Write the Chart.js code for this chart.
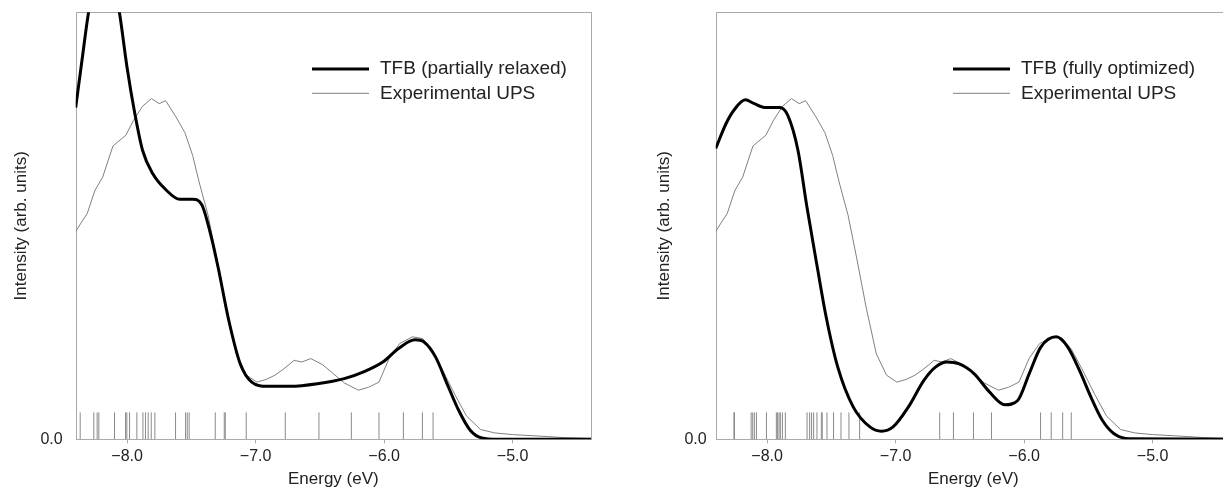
<!DOCTYPE html>
<html>
<head>
<meta charset="utf-8">
<title>TFB spectra</title>
<script src="https://cdn.jsdelivr.net/npm/chart.js@4.4.1/dist/chart.umd.min.js"></script>
<style>
  html, body { margin: 0; padding: 0; background: #fff; overflow: hidden; }
  #wrap { position: relative; width: 1223px; height: 490px; overflow: hidden; }
  #chartLeft { position: absolute; left: 0; top: 0; }
  #chartRight { position: absolute; left: 612px; top: 0; }
</style>
</head>
<body>
<div id="wrap">
  <canvas id="chartLeft" width="612" height="490"></canvas>
  <canvas id="chartRight" width="630" height="490"></canvas>
</div>
<script>
// energies in eV, intensities in arbitrary units (0 .. 1 = top of plot)
const xTicks = [-8, -7, -6, -5];
const yTicks = [0];

// experimental UPS (same curve in both panels)
const upsE = [-8.40, -8.31, -8.25, -8.19, -8.11, -8.01, -7.95, -7.88, -7.81, -7.75, -7.70, -7.62, -7.55, -7.49, -7.44, -7.37, -7.30, -7.23, -7.15, -7.07, -6.99, -6.92, -6.85, -6.78, -6.70, -6.64, -6.57, -6.48, -6.40, -6.31, -6.20, -6.12, -6.04, -5.96, -5.88, -5.78, -5.70, -5.63, -5.55, -5.45, -5.36, -5.25, -5.14, -5.00, -4.82, -4.60, -4.39];
const upsI = [0.487, 0.529, 0.583, 0.614, 0.687, 0.712, 0.747, 0.780, 0.798, 0.786, 0.793, 0.755, 0.718, 0.665, 0.603, 0.525, 0.42, 0.31, 0.20, 0.15, 0.134, 0.140, 0.150, 0.165, 0.185, 0.181, 0.189, 0.175, 0.155, 0.132, 0.115, 0.122, 0.134, 0.190, 0.224, 0.240, 0.236, 0.210, 0.165, 0.105, 0.055, 0.023, 0.015, 0.011, 0.008, 0.004, 0.002];

// TFB (partially relaxed)
const relaxedE = [-8.40, -8.35, -8.30, -8.24, -8.18, -8.12, -8.06, -8.00, -7.94, -7.88, -7.80, -7.70, -7.59, -7.49, -7.42, -7.35, -7.29, -7.21, -7.12, -7.03, -6.91, -6.73, -6.52, -6.31, -6.16, -6.01, -5.89, -5.76, -5.69, -5.60, -5.51, -5.42, -5.33, -5.24, -5.12, -4.39];
const relaxedI = [0.777, 0.89, 1.00, 1.09, 1.13, 1.09, 1.00, 0.87, 0.763, 0.677, 0.622, 0.585, 0.562, 0.562, 0.550, 0.48, 0.40, 0.28, 0.177, 0.134, 0.124, 0.124, 0.130, 0.142, 0.158, 0.181, 0.212, 0.233, 0.228, 0.193, 0.130, 0.068, 0.021, 0.003, 0, 0];
const relaxedLines = [-8.365, -8.259, -8.233, -8.220, -8.098, -8.012, -8.002, -7.981, -7.924, -7.877, -7.857, -7.836, -7.812, -7.784, -7.623, -7.545, -7.532, -7.517, -7.314, -7.244, -7.236, -7.073, -6.769, -6.507, -6.255, -6.040, -5.850, -5.702, -5.619];

// TFB (fully optimized)
const optE = [-8.40, -8.32, -8.26, -8.17, -8.10, -8.01, -7.90, -7.84, -7.76, -7.69, -7.61, -7.54, -7.45, -7.33, -7.20, -7.11, -7.02, -6.90, -6.78, -6.69, -6.60, -6.51, -6.39, -6.27, -6.15, -6.05, -5.96, -5.87, -5.75, -5.66, -5.57, -5.48, -5.39, -5.30, -5.18, -4.39];
const optI = [0.681, 0.739, 0.770, 0.795, 0.786, 0.777, 0.777, 0.759, 0.677, 0.544, 0.404, 0.286, 0.169, 0.076, 0.029, 0.019, 0.029, 0.076, 0.138, 0.169, 0.181, 0.177, 0.154, 0.111, 0.081, 0.091, 0.154, 0.216, 0.240, 0.216, 0.162, 0.099, 0.044, 0.013, 0.001, 0];
const optLines = [-8.258, -8.254, -8.124, -8.112, -8.099, -8.083, -8.005, -7.928, -7.918, -7.907, -7.897, -7.881, -7.858, -7.689, -7.669, -7.654, -7.638, -7.612, -7.578, -7.571, -7.534, -7.483, -7.425, -7.363, -7.280, -6.657, -6.550, -6.394, -6.254, -5.872, -5.789, -5.700, -5.633];

const STICK_H = 0.063;
const AXIS = "#aaaaaa";
const TEXT = "#222222";
const FONT = "'Liberation Sans', Arial, sans-serif";
Chart.defaults.font.family = FONT;

const zip = (xs, ys) => xs.map((x, i) => ({ x: x, y: ys[i] }));
const sticks = es => es.flatMap(e => [{ x: e, y: 0 }, { x: e, y: STICK_H }, { x: e, y: null }]);

// box around the plot area
const frame = {
  id: "frame",
  beforeDatasetsDraw(chart) {
    const a = chart.chartArea, ctx = chart.ctx;
    ctx.save();
    ctx.strokeStyle = AXIS;
    ctx.lineWidth = 1;
    ctx.strokeRect(Math.round(a.left) + 0.5, Math.round(a.top) + 0.5, Math.round(a.right - a.left), Math.round(a.bottom - a.top));
    ctx.restore();
  }
};

// legend drawn inside the plot
const insideLegend = {
  id: "insideLegend",
  afterDraw(chart, args, opts) {
    const ctx = chart.ctx;
    ctx.save();
    ctx.font = "19px " + FONT;
    ctx.textBaseline = "middle";
    ctx.fillStyle = TEXT;
    let y = opts.y;
    chart.data.datasets.forEach(ds => {
      if (!ds.label) return;
      ctx.strokeStyle = ds.borderColor;
      ctx.lineWidth = ds.borderWidth;
      ctx.beginPath();
      ctx.moveTo(opts.x, y);
      ctx.lineTo(opts.x + opts.len, y);
      ctx.stroke();
      ctx.fillText(ds.label, opts.x + opts.len + opts.gap, y);
      y += opts.step;
    });
    ctx.restore();
  }
};

function makeChart(id, label, calcE, calcI, lines, p) {
  return new Chart(document.getElementById(id), {
    type: "line",
    data: {
      datasets: [
        { label: label, data: zip(calcE, calcI), borderColor: "#000", borderWidth: 3, pointRadius: 0, cubicInterpolationMode: "monotone", order: 0 },
        { label: "Experimental UPS", data: zip(upsE, upsI), borderColor: "#808080", borderWidth: 1, pointRadius: 0, tension: 0, order: 1 },
        { label: "", data: sticks(lines), borderColor: "#8a8a8a", borderWidth: 1, pointRadius: 0, tension: 0, spanGaps: false, order: 2 }
      ]
    },
    options: {
      responsive: false,
      animation: false,
      events: [],
      layout: { padding: { left: 0, right: p.padRight, top: 12.3, bottom: 0 } },
      plugins: {
        legend: { display: false },
        tooltip: { enabled: false },
        insideLegend: { x: p.legX, y: 69, len: 57, gap: 11, step: 24.3 }
      },
      scales: {
        x: {
          type: "linear",
          min: -8.40,
          max: -4.39,
          afterBuildTicks: s => { s.ticks = xTicks.map(v => ({ value: v })); },
          afterFit: s => { s.height = 50.7; s.paddingLeft = 0; s.paddingRight = 0; },
          grid: { display: true, drawOnChartArea: false, drawTicks: true, tickLength: 4, color: AXIS },
          border: { display: false },
          ticks: { color: TEXT, font: { size: 16 }, padding: 4, maxRotation: 0, callback: v => "\u2212" + Math.abs(v).toFixed(1) },
          title: { display: true, text: "Energy (eV)", color: TEXT, font: { size: 17 }, padding: { top: 0, bottom: 0 } }
        },
        y: {
          type: "linear",
          min: 0,
          max: 1,
          afterBuildTicks: s => { s.ticks = yTicks.map(v => ({ value: v })); },
          afterFit: s => { s.width = p.yWidth; s.paddingTop = 0; s.paddingBottom = 0; },
          grid: { display: false, drawTicks: false },
          border: { display: false },
          ticks: { color: TEXT, font: { size: 16 }, padding: p.tickPad, callback: v => v.toFixed(1) },
          title: { display: true, text: "Intensity (arb. units)", color: TEXT, font: { size: 17 }, padding: { top: p.titlePad, bottom: 0 } }
        }
      }
    },
    plugins: [frame, insideLegend]
  });
}

makeChart("chartLeft", "TFB (partially relaxed)", relaxedE, relaxedI, relaxedLines,
  { padRight: 21, yWidth: 75.7, tickPad: 13, titlePad: 11, legX: 312 });
makeChart("chartRight", "TFB (fully optimized)", optE, optI, optLines,
  { padRight: 11, yWidth: 103.7, tickPad: 9, titlePad: 42.4, legX: 341 });
</script>
</body>
</html>
